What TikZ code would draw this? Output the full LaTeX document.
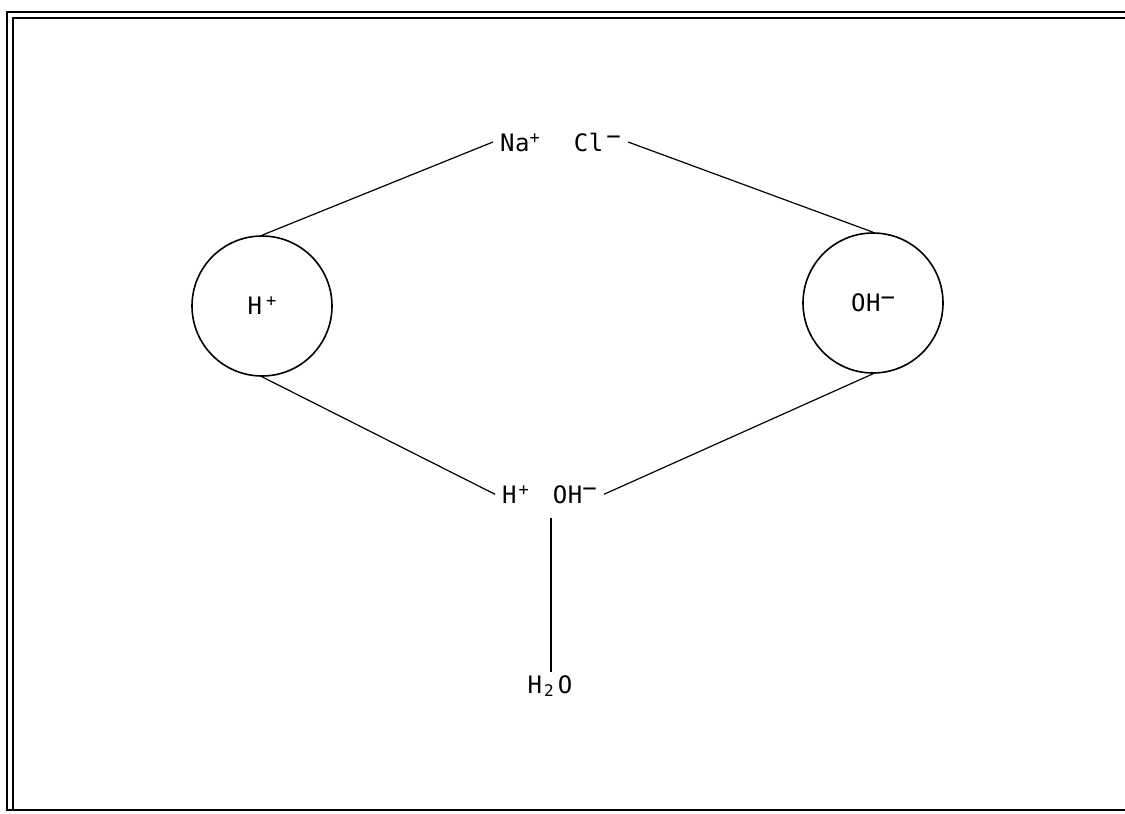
\documentclass[tikz,border=0pt]{standalone}
\usepackage{fontspec}
\newfontfamily\plotfont[LetterSpace=2.5]{DejaVu Sans Mono}
% raised charge signs and lowered index, drawn in the plotter face
\newcommand\chgplus{\raisebox{8pt}{\fontsize{17}{17}\selectfont +}}
\newcommand\chgminus{\raisebox{6.5pt}{−}}
\newcommand\idx[1]{\hspace{2pt}\raisebox{-3pt}{\fontsize{16}{16}\selectfont #1}\hspace{4pt}}
\begin{document}
\begin{tikzpicture}[x=1pt,y=-1pt,
  ion/.style={font=\plotfont\fontsize{24}{26}\selectfont, inner xsep=7pt, inner ysep=3pt},
  ring/.style={circle, draw, line width=1.6pt, minimum size=140pt, inner sep=0pt},
  link/.style={line width=1.2pt},
  frame/.style={line width=1.5pt}]
\useasboundingbox (0,0) rectangle (1125,814);
% double frame
\draw[frame] (1125,12) -- (7,12) -- (7,810) -- (1125,810);
\draw[frame] (1125,18) -- (13,18) -- (13,810);
% ions
\node[ion, anchor=base west] (nacl) at (493,151) {Na\chgplus\hspace{34pt}Cl\hspace{3pt}\chgminus};
\node[ring] (hp) at (262,306) {};
\node[ion] at (hp.center) {H\hspace{4pt}\chgplus};
\node[ring] (oh) at (873,303) {};
\node[ion] at (oh.center) {OH\chgminus};
\node[ion, anchor=base west] (hoh) at (495,503) {H\hspace{2pt}\chgplus\hspace{24pt}OH\chgminus};
\node[ion, anchor=base] (water) at (550,693) {H\idx{2}O};
% connectors
\coordinate (stem) at (551,518);
\draw[link] (hp.north) -- (nacl.west);
\draw[link] (nacl.east) -- (oh.north);
\draw[link] (hp.south) -- (hoh.west);
\draw[link] (hoh.east) -- (oh.south);
\draw[link] (stem) -- (stem |- water.north);
\end{tikzpicture}
\end{document}
